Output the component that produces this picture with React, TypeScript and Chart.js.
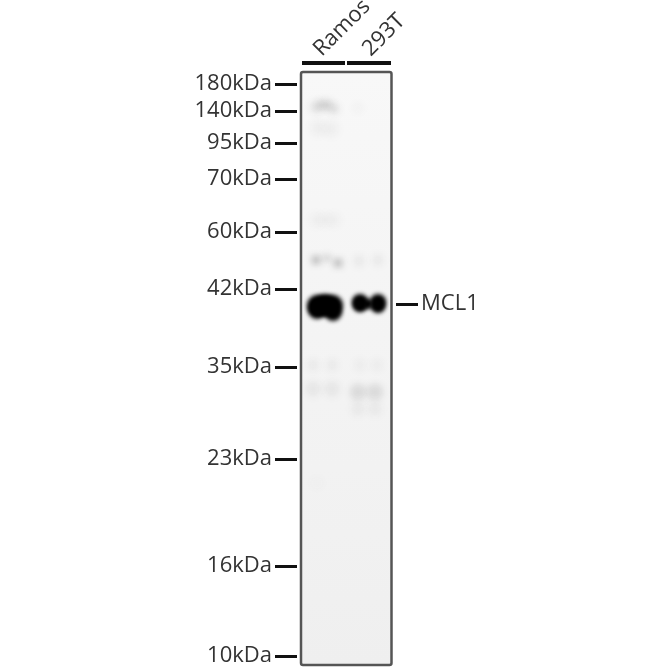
import React, { useEffect, useRef } from "react";
import { Chart, registerables } from "chart.js";

Chart.register(...registerables);

const FONT = "'Open Sans', sans-serif";

// migration is measured down from the top of the gel, lane position from its left edge
const markerLabels = ["180kDa", "140kDa", "95kDa", "70kDa", "60kDa", "42kDa", "35kDa", "23kDa", "16kDa", "10kDa"];
const markerMigration = [12, 39, 71, 107, 160, 217, 295, 387, 494, 584];

const sampleNames = ["Ramos", "293T"];
const sampleLabelAt = [35, 84];
const sampleBarStart = [1, 46];
const sampleBarEnd = [44, 90];

const targetName = "MCL1";
const targetMigration = 232;

// saturated MCL1 bands
const coreLane = [16, 16, 24, 24, 32, 32, 59, 59, 67, 77, 77];
const coreMigration = [233, 238, 233, 234, 233, 240, 230, 233, 232, 230, 234];
const coreSpread = [10, 9, 11, 9, 10, 9, 8, 7, 5, 8, 7];

// background and non-specific bands
const faintLane = [15, 21, 27, 33, 17, 30, 57, 15, 24, 33, 15, 26, 37, 58, 77, 12, 31, 59, 76, 12, 31, 57, 74, 57, 74, 16];
const faintMigration = [35, 33, 33, 37, 56, 57, 36, 148, 148, 148, 188, 186, 191, 189, 188, 293, 293, 293, 293, 317, 317, 320, 320, 337, 337, 411];
const faintSpread = [6, 5, 5, 5, 8, 8, 5, 7, 7, 7, 4, 3, 4, 6, 6, 6, 6, 6, 6, 8, 8, 8, 8, 7, 7, 6];
const faintDensity = [0.1, 0.14, 0.14, 0.12, 0.04, 0.04, 0.03, 0.03, 0.03, 0.03, 0.36, 0.28, 0.36, 0.06, 0.06, 0.05, 0.05, 0.04, 0.04, 0.06, 0.06, 0.12, 0.12, 0.05, 0.05, 0.02];

const GEL_LEFT = 0;
const GEL_RIGHT = 90.5;
const GEL_TOP = 0;
const GEL_BOTTOM = 593;

const gelPlugin = {
  id: "gel",
  beforeDatasetsDraw(chart: any) {
    const { ctx, scales } = chart;
    const l = scales.x.getPixelForValue(GEL_LEFT);
    const r = scales.x.getPixelForValue(GEL_RIGHT);
    const t = scales.y.getPixelForValue(GEL_TOP);
    const b = scales.y.getPixelForValue(GEL_BOTTOM);
    const fill = ctx.createLinearGradient(0, t, 0, b);
    fill.addColorStop(0, "#f8f8f8");
    fill.addColorStop(1, "#efefef");
    ctx.save();
    ctx.fillStyle = fill;
    ctx.fillRect(l, t, r - l, b - t);
    ctx.restore();
  },
  afterDatasetsDraw(chart: any) {
    const { ctx, scales } = chart;
    const l = scales.x.getPixelForValue(GEL_LEFT);
    const r = scales.x.getPixelForValue(GEL_RIGHT);
    const t = scales.y.getPixelForValue(GEL_TOP);
    const b = scales.y.getPixelForValue(GEL_BOTTOM);
    ctx.save();
    ctx.strokeStyle = "#555";
    ctx.lineWidth = 2.5;
    ctx.beginPath();
    ctx.roundRect(l, t, r - l, b - t, 2);
    ctx.stroke();
    ctx.restore();
  },
  beforeDatasetDraw(chart: any, args: any) {
    const blur = chart.data.datasets[args.index].blur;
    if (blur) {
      chart.ctx.save();
      chart.ctx.filter = `blur(${blur}px)`;
    }
  },
  afterDatasetDraw(chart: any, args: any) {
    if (chart.data.datasets[args.index].blur) chart.ctx.restore();
  },
};

export default function App() {
  const canvasRef = useRef<HTMLCanvasElement>(null);

  useEffect(() => {
    if (!canvasRef.current) return;

    const chart = new Chart(canvasRef.current, {
      type: "bubble",
      plugins: [gelPlugin],
      data: {
        datasets: [
          {
            label: "Background",
            data: faintLane.map((x, i) => ({ x, y: faintMigration[i], r: faintSpread[i] })),
            backgroundColor: faintDensity.map((d) => `rgba(30,30,30,${d})`),
            borderWidth: 0,
            blur: 3.5,
          },
          {
            label: targetName,
            data: coreLane.map((x, i) => ({ x, y: coreMigration[i], r: coreSpread[i] })),
            backgroundColor: "#000",
            borderWidth: 0,
            blur: 2,
          },
          ...sampleNames.map((name, i) => ({
            type: "line",
            label: name,
            data: [
              { x: sampleBarStart[i], y: -9 },
              { x: sampleBarEnd[i], y: -9 },
            ],
            borderColor: "#111",
            borderWidth: 4,
            pointRadius: 0,
            clip: false,
          })),
        ] as any,
      },
      options: {
        responsive: false,
        animation: false,
        layout: { autoPadding: false, padding: { top: 0, bottom: 5, left: 0, right: 0 } },
        plugins: { legend: { display: false }, tooltip: { enabled: false } },
        scales: {
          x: {
            type: "linear",
            position: "top",
            min: -4,
            max: 95,
            border: { display: false },
            grid: { display: false },
            afterBuildTicks: (scale: any) => {
              scale.ticks = sampleLabelAt.map((value) => ({ value }));
            },
            afterFit: (scale: any) => {
              scale.height = 72;
              scale.paddingLeft = 0;
              scale.paddingRight = 0;
            },
            ticks: {
              autoSkip: false,
              minRotation: 45,
              maxRotation: 45,
              padding: 2,
              color: "#333",
              font: { family: FONT, size: 22 },
              callback: (v: any) => sampleNames[sampleLabelAt.indexOf(v)],
            },
          },
          y: {
            type: "linear",
            reverse: true,
            min: GEL_TOP,
            max: GEL_BOTTOM,
            border: { display: false },
            grid: { drawOnChartArea: false, tickLength: 22, tickWidth: 3, tickColor: "#111" },
            afterBuildTicks: (scale: any) => {
              scale.ticks = markerMigration.map((value) => ({ value }));
            },
            afterFit: (scale: any) => {
              scale.width = 297;
              scale.paddingTop = 0;
              scale.paddingBottom = 0;
            },
            ticks: {
              autoSkip: false,
              padding: 3,
              color: "#333",
              font: { family: FONT, size: 22 },
              callback: (v: any) => markerLabels[markerMigration.indexOf(v)],
            },
          },
          target: {
            type: "linear",
            position: "right",
            reverse: true,
            min: GEL_TOP,
            max: GEL_BOTTOM,
            border: { display: false },
            grid: { drawOnChartArea: false, tickLength: 22, tickWidth: 3, tickColor: "#111" },
            afterBuildTicks: (scale: any) => {
              scale.ticks = [{ value: targetMigration }];
            },
            afterFit: (scale: any) => {
              scale.width = 274;
              scale.paddingTop = 0;
              scale.paddingBottom = 0;
            },
            ticks: {
              autoSkip: false,
              padding: 3,
              color: "#333",
              font: { family: FONT, size: 22 },
              callback: () => targetName,
            },
          },
        },
      } as any,
    });

    return () => {
      chart.destroy();
    };
  }, []);

  return (
    <div style={{ position: "fixed", left: 0, top: 0, width: 670, height: 670, background: "#fff" }}>
      <canvas
        ref={canvasRef}
        width={670}
        height={670}
        style={{ display: "block", filter: "blur(0.4px)" }}
        role="img"
        aria-label="Western blot of MCL1 in Ramos and 293T lysates"
      />
    </div>
  );
}
